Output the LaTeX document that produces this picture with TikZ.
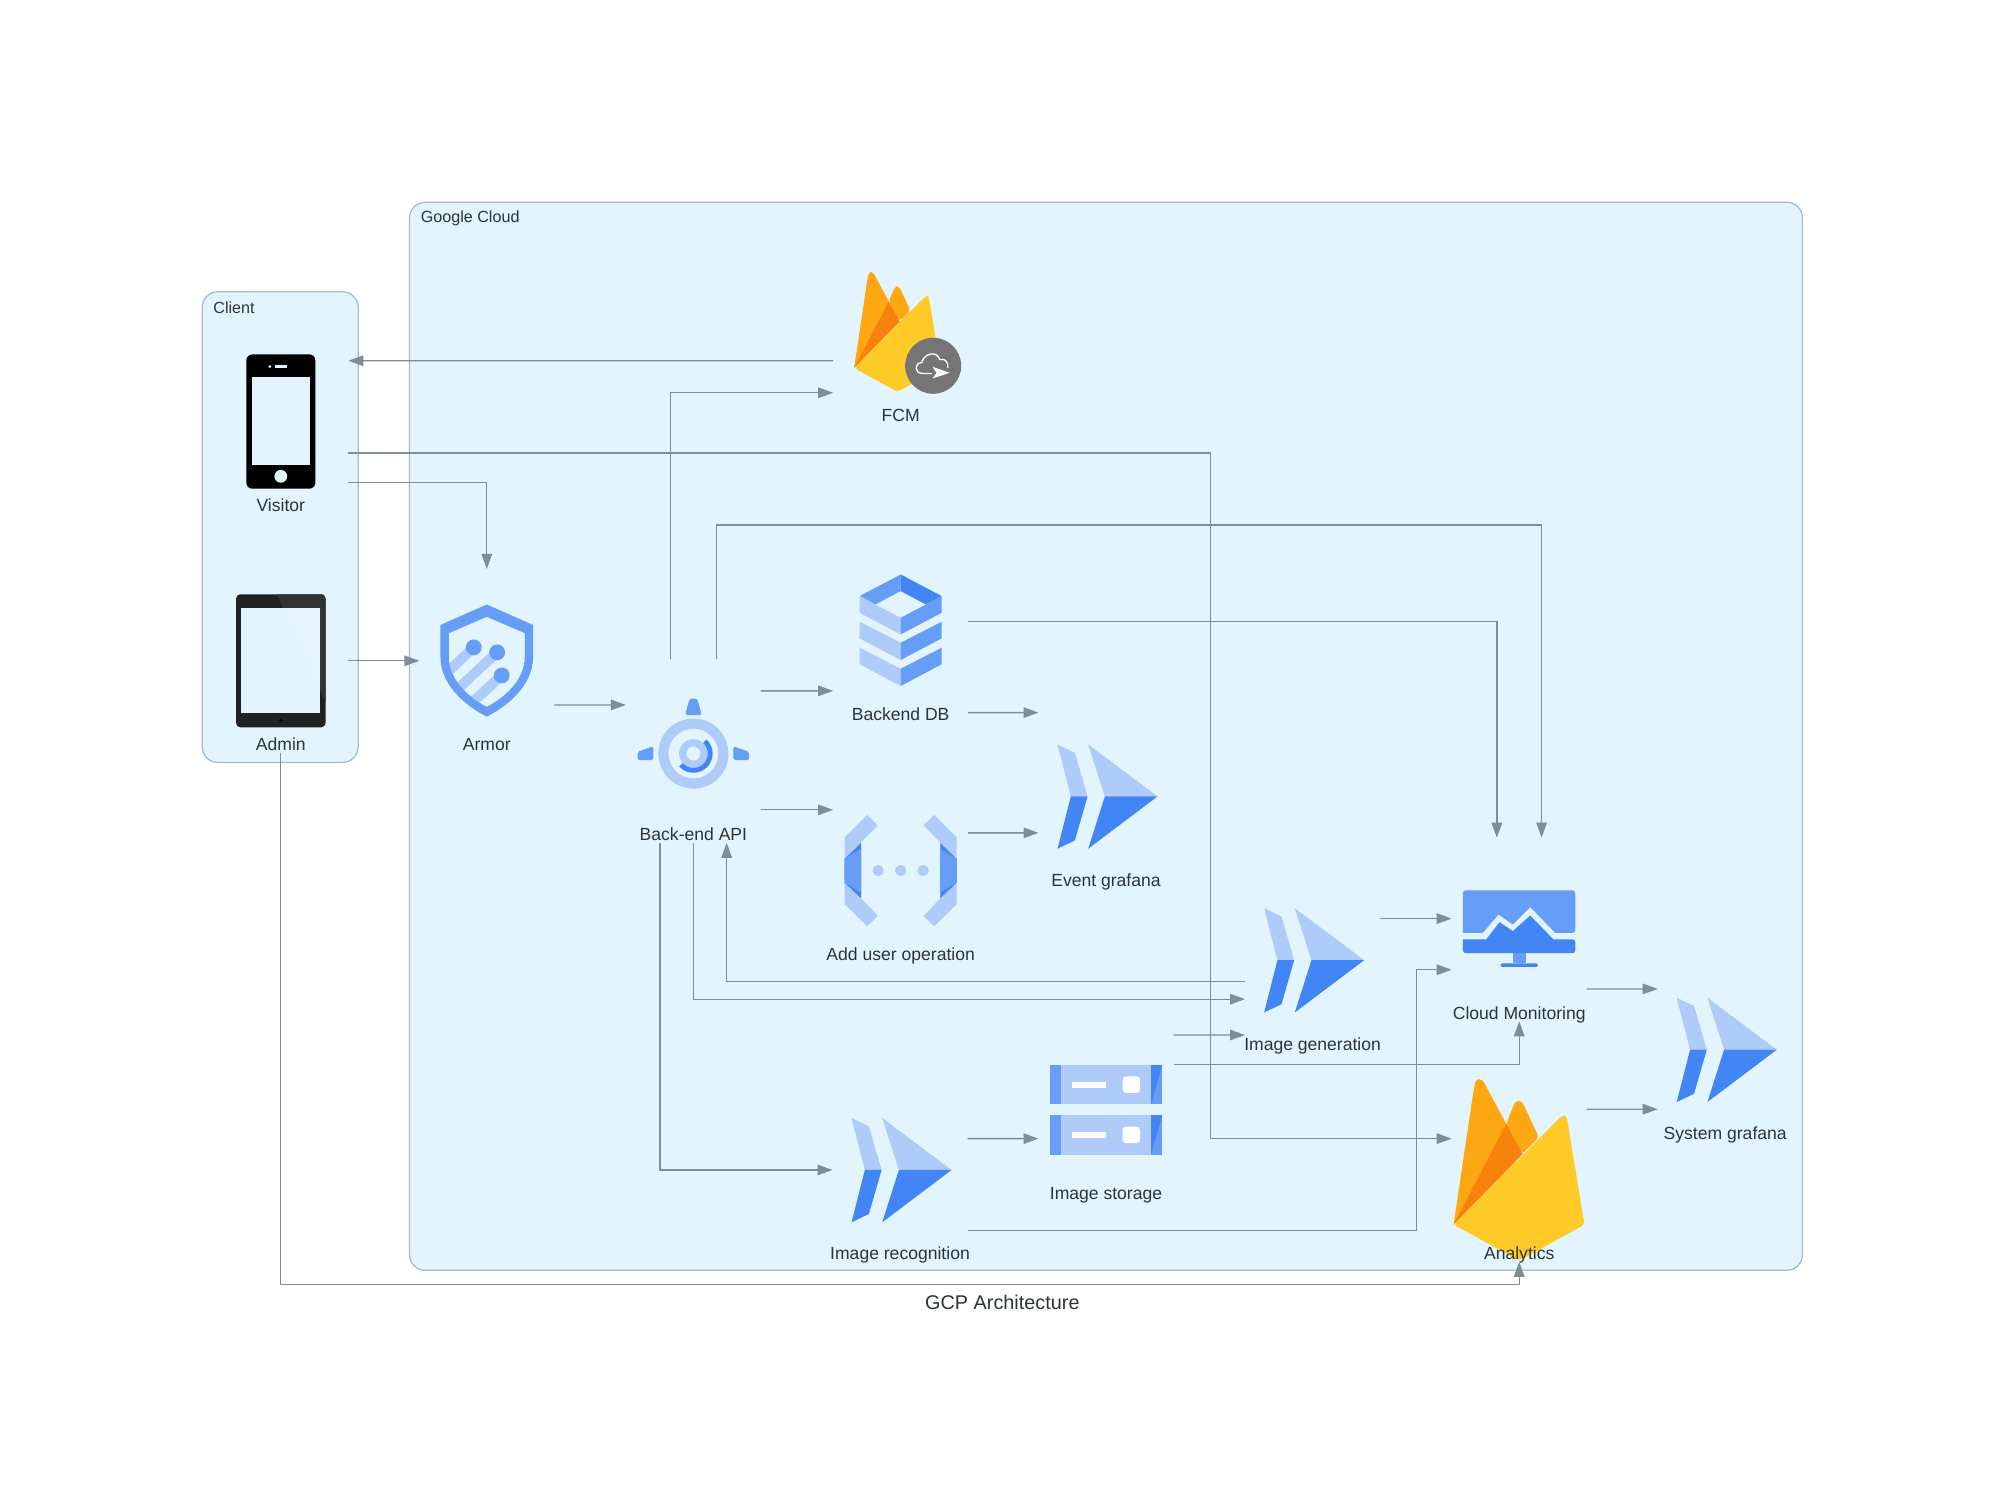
\documentclass[tikz,border=0pt]{standalone}
\usepackage{fontspec}
\setmainfont{Liberation Sans}
\usetikzlibrary{arrows.meta, calc}
\definecolor{cloudbg}{HTML}{E2F4FD}
\definecolor{clusterline}{HTML}{A9B9C6}
\definecolor{connline}{HTML}{7F8D99}
\definecolor{labeltext}{HTML}{2D3436}
\definecolor{glight}{HTML}{AECBFA}
\definecolor{gmid}{HTML}{669DF6}
\definecolor{gdark}{HTML}{4285F4}
\definecolor{fireorange}{HTML}{FFA712}
\definecolor{firedark}{HTML}{F6820C}
\definecolor{fireyellow}{HTML}{FFCA28}
\definecolor{fcmgrey}{HTML}{757575}
\tikzset{
	cluster/.style={draw=clusterline, fill=cloudbg, line width=.7pt, rounded corners=9pt, inner sep=0pt},
	clusterlbl/.style={anchor=west, inner sep=0pt, text=labeltext, font=\fontsize{9.2}{11}\selectfont},
	iconbox/.style={minimum width=2.688cm, minimum height=3.661cm, inner sep=0pt},
	iconlbl/.style={inner sep=0pt, text height=7.2pt, text depth=2pt, text=labeltext, font=\fontsize{10}{12}\selectfont},
	conn/.style={draw=connline, line width=.75pt, -{Triangle[length=.3cm,width=.21cm]}},
	pics/phone/.style={code={
		\fill[black, rounded corners=3.5pt] (-27,-52.5) rectangle (27,52.5);
		\fill[cloudbg] (-22.5,-34.5) rectangle (22.5,34);
		\fill[cloudbg] (-4.7,-44) rectangle (5.2,-42);
		\fill[cloudbg] (-8.6,-43) circle (1.2);
		\fill[cloudbg] (0,42.8) circle (5);
	}},
	pics/tablet/.style={code={
		\fill[black!87, rounded corners=2.5pt] (-35,-52) rectangle (35,52);
		\fill[black!80] (-3.1,-52) -- (2,-41) -- (30.9,-41) -- (30.9,23.7) -- (35,32.6) -- (35,-49) -- (33,-52) -- cycle;
		\fill[cloudbg] (-30.9,-41) rectangle (30.9,40.7);
		\fill[white, opacity=.15] (2,-41) -- (30.9,-41) -- (30.9,23.7) -- cycle;
		\fill[black] (0,46.5) circle (1.5);
	}},
	pics/armoricon/.style={code={
		\begin{scope}
			\clip (29.7,-21.6) -- (29.7,-3) .. controls (29.7,16) and (12,30) .. (0,36) .. controls (-12,30) and (-29.7,16) .. (-29.7,-3) -- (-29.7,-21.6) -- (0,-34.4) -- cycle;
			\draw[glight, line width=.2cm] (-10.2,-10.5) -- (-34,12);
			\draw[glight, line width=.2cm] (8.1,-6.6) -- (-26,25);
			\draw[glight, line width=.2cm] (11.7,11.4) -- (-14,35);
		\end{scope}
		\fill[gmid, even odd rule] (0,-44) -- (36.2,-28) -- (36.2,-3) .. controls (36.2,20) and (15,36) .. (0,43.7) .. controls (-15,36) and (-36.2,20) .. (-36.2,-3) -- (-36.2,-28) -- cycle
			(0,-34.4) -- (29.7,-21.6) -- (29.7,-3) .. controls (29.7,16) and (12,30) .. (0,36) .. controls (-12,30) and (-29.7,16) .. (-29.7,-3) -- (-29.7,-21.6) -- cycle;
		\fill[gmid] (-10.2,-10.5) circle (6.2);
		\fill[gmid] (8.1,-6.6) circle (6.2);
		\fill[gmid] (11.7,11.4) circle (6.2);
	}},
	pics/apiicon/.style={code={
		\begin{scope}[shift={(0,2)}]
			\fill[glight, even odd rule] (0,0) circle (27.4) (0,0) circle (19.5);
			\fill[glight, even odd rule] (0,0) circle (11.2) (0,0) circle (5.6);
			\fill[gdark] plot[domain=-47:138,samples=30] ({15*cos(\x)},{15*sin(\x)}) -- plot[domain=138:-47,samples=30] ({11.2*cos(\x)},{11.2*sin(\x)}) -- cycle;
			\fill[gmid, rounded corners=1.5pt] (-6.5,-30) -- (-3,-43) -- (3,-43) -- (6.5,-30) -- cycle;
			\fill[gmid, rounded corners=1pt] (-31.3,-5.7) -- (-31.3,5.2) -- (-43.6,5.2) -- (-43.6,-1.3) -- cycle;
			\fill[gmid, rounded corners=1pt] (31.3,-5.7) -- (31.3,5.2) -- (43.6,5.2) -- (43.6,-1.3) -- cycle;
		\end{scope}
	}},
	pics/flame/.style={code={
		\fill[fireorange, rounded corners=2pt] (-3,-54) -- (2,-54) -- (15.4,-25.5) -- (2.6,-12.5) -- (-10.2,-36) -- cycle;
		\fill[fireorange] (-51.3,42.7) -- (-36,-60) [rounded corners=2pt] -- (-34,-71) -- (-29,-71) [sharp corners] -- (2.6,-12.5) -- cycle;
		\fill[firedark] (-51.3,42.7) -- (-10.2,-36) -- (2.6,-12.5) -- cycle;
		\fill[fireyellow, rounded corners=2pt] (-51.3,42.7) -- (33.5,-42.5) -- (37,-42.5) -- (51,42.7) -- (0,70.9) -- cycle;
	}},
	pics/fcmicon/.style={code={
		\pic[scale=.66] at (-2.5,0) {flame};
		\begin{scope}[shift={(25.4,26.4)}]
			\fill[fcmgrey] (0,0) circle (21.9);
			\draw[white, line width=.75pt, line join=round] (-1,6) -- (-8,6) .. controls (-15,6) and (-15,-2) .. (-9,-2.5) .. controls (-7,-10) and (3,-12) .. (5,-5) .. controls (10,-6) and (12,-2) .. (11.5,1.5);
			\fill[white] (-.5,.8) -- (13,5.5) -- (-.5,9.9) -- (2.6,5.5) -- cycle;
		\end{scope}
	}},
	pics/dbicon/.style={code={
		\fill[gmid] (-32,-26.6) -- (0,-43.5) -- (0,-30.5) -- (-19.8,-20) -- cycle;
		\fill[gdark] (0,-43.5) -- (32,-26.6) -- (19.8,-20) -- (0,-30.5) -- cycle;
		\fill[glight] (-32,-26.6) -- (-19.8,-20) -- (0,-9.6) -- (0,3.4) -- (-32,-13.5) -- cycle;
		\fill[gmid] (32,-26.6) -- (19.8,-20) -- (0,-9.6) -- (0,3.4) -- (32,-13.5) -- cycle;
		\foreach \yo in {0,20.3} {
			\fill[glight] (-32,-6.5+\yo) -- (0,9.9+\yo) -- (0,23.4+\yo) -- (-32,6.5+\yo) -- cycle;
			\fill[gmid] (32,-6.5+\yo) -- (0,9.9+\yo) -- (0,23.4+\yo) -- (32,6.5+\yo) -- cycle;
		}
	}},
	pics/bracketicon/.style={code={
		\foreach \sd in {1,-1} {
			\begin{scope}[xscale=\sd]
				\fill[glight] (-26.2,-43.5) -- (-17.9,-35.4) -- (-31,-22) -- (-31,21.6) -- (-17.9,35.4) -- (-26.2,43.5) -- (-43.8,26.3) -- (-43.8,-26) -- cycle;
				\fill[gdark] (-31,-21.4) -- (-31,21.6) -- (-43.8,9.4) -- (-43.8,-9.1) -- cycle;
				\fill[gmid] (-31,-17) -- (-31,17) -- (-43.8,9.4) -- (-43.8,-9.1) -- cycle;
			\end{scope}
		}
		\foreach \dx in {-17.6,0,17.6} {\fill[glight] (\dx,0) circle (4.4);}
	}},
	pics/grafanaicon/.style={code={
		\begin{scope}[shift={(1.2,0)}]
			\fill[glight] (-39.1,-40.6) -- (-25.5,-34.1) -- (-15.6,0) -- (-28.7,0) -- cycle;
			\fill[gdark] (-28.7,0) -- (-15.6,0) -- (-25.5,34.4) -- (-39.1,40.9) -- cycle;
			\fill[glight] (-15.1,-40.6) -- (39.1,0) -- (-2.1,0) -- cycle;
			\fill[gdark] (-2.1,0) -- (39.1,0) -- (-15.1,40.9) -- cycle;
		\end{scope}
	}},
	pics/monitoricon/.style={code={
		\fill[gmid, rounded corners=1.5pt] (-44,2.6) -- (-44,-30.5) -- (43.8,-30.5) -- (43.8,2.6) [sharp corners] -- (28.1,2.6) -- (8.6,-17.5) -- (-5,-3.9) -- (-16.2,-11.7) -- (-28.4,2.6) -- cycle;
		\fill[gdark, rounded corners=1.5pt] (-44,7.8) -- (-44,18.5) -- (43.8,18.5) -- (43.8,7.8) [sharp corners] -- (26.8,7.8) -- (8.6,-10.9) -- (-5,1.3) -- (-15.4,-5.7) -- (-25.8,7.8) -- cycle;
		\fill[gmid] (-5.2,18.5) rectangle (5.2,26.6);
		\fill[gdark, rounded corners=.8pt] (-14.6,26.6) rectangle (14.6,29.2);
	}},
	pics/storageicon/.style={code={
		\foreach \yo in {0,39.3} {
			\fill[glight] (-43.8,-35+\yo) rectangle (44,-4.3+\yo);
			\fill[gmid] (-43.8,-35+\yo) rectangle (-34.9,-4.3+\yo);
			\fill[gmid] (35.2,-35+\yo) rectangle (44,-4.3+\yo);
			\fill[gdark] (35.2,-35+\yo) -- (44,-35+\yo) -- (35.2,-4.3+\yo) -- cycle;
			\fill[white] (-26.3,-22+\yo) rectangle (0,-17.3+\yo);
			\fill[white, rounded corners=2pt] (13,-26.2+\yo) rectangle (26.6,-13.2+\yo);
		}
	}}
}
\begin{document}
\begin{tikzpicture}[x=.0256cm, y=-.0256cm]
	\useasboundingbox (0,0) rectangle (1568,1178.7);
	\node[cluster, minimum width=3.123cm, minimum height=9.42cm] (client) at (219,412) {};
	\node[cluster, minimum width=27.878cm, minimum height=21.376cm] (gcloud) at (864.5,575.5) {};
	\node[clusterlbl] (clientlbl) at ($(client.north west)+(9,13)$) {Client};
	\node[clusterlbl] (gcloudlbl) at ($(gcloud.north west)+(9,13)$) {Google Cloud};
	\foreach \nm/\cx/\cy/\txt/\icon in {
		visitor/219.5/329.5/Visitor/phone,
		admin/219.5/516.5/Admin/tablet,
		armor/380.5/516.5/Armor/armoricon,
		api/542/587/Back-end API/apiicon,
		fcm/704/259.5/FCM/fcmicon,
		db/704/492.5/Backend DB/dbicon,
		addop/704/680.5/Add user operation/bracketicon,
		event/864.5/622.5/Event grafana/grafanaicon,
		imggen/1026/750.5/Image generation/grafanaicon,
		cloud/1187.5/726.5/Cloud Monitoring/monitoricon,
		system/1348.5/820.5/System grafana/grafanaicon,
		storage/864.5/867.5/Image storage/storageicon,
		imgrec/703.5/914.5/Image recognition/grafanaicon,
		analytics/1187.5/914.5/Analytics/flame} {
		\pic at (\cx,\cy) {\icon};
		\node[iconbox] (\nm) at (\cx,\cy) {};
		\node[iconlbl] (\nm-lbl) at ($(\nm.south)+(0,-5)$) {\txt};
	}
	\draw[conn] ($(fcm.west)+(0,22.5)$) -- ($(visitor.east)+(0,-47.5)$);
	\draw[conn] ($(api.north)+(-18,0)$) |- ($(fcm.west)+(0,47.5)$);
	\draw[conn] ($(api.north)+(18,0)$) -- ++(0,-105) -| ($(cloud.north)+(17.5,0)$);
	\draw[conn] ($(visitor.east)+(0,24.5)$) -- ++(674,0) |- ($(analytics.west)+(0,-24.5)$);
	\draw[conn] ($(visitor.east)+(0,47.5)$) -| (armor.north);
	\draw[conn] (admin.east) -- (armor.west);
	\draw[conn] (admin.south) -- ++(0,416) -| (analytics.south);
	\draw[conn] ($(armor.east)+(0,34.5)$) -- ($(api.west)+(0,-36)$);
	\draw[conn] ($(api.east)+(0,-47)$) -- ($(db.west)+(0,47.5)$);
	\draw[conn] ($(api.east)+(0,46)$) -- ($(addop.west)+(0,-47.5)$);
	\draw[conn] ($(db.east)+(0,64.5)$) -- ($(event.west)+(0,-65.5)$);
	\draw[conn] ($(db.east)+(0,-6.5)$) -| ($(cloud.north)+(-17.5,0)$);
	\draw[conn] ($(addop.east)+(0,-29.5)$) -- ($(event.west)+(0,28.5)$);
	\draw[conn] ($(imggen.west)+(0,16.5)$) -| ($(api.south)+(26,0)$);
	\draw[conn] (api.south) |- ($(imggen.west)+(0,30.5)$);
	\draw[conn] ($(api.south)+(-26,0)$) |- (imgrec.west);
	\draw[conn] ($(imgrec.east)+(0,-24.5)$) -- ($(storage.west)+(0,22.5)$);
	\draw[conn] ($(imgrec.east)+(0,47.5)$) -- ++(351,0) |- ($(cloud.west)+(0,31.5)$);
	\draw[conn] ($(storage.east)+(0,-58.5)$) -- ($(imggen.west)+(0,58.5)$);
	\draw[conn] ($(storage.east)+(0,-35.5)$) -| (cloud.south);
	\draw[conn] ($(imggen.east)+(0,-32.5)$) -- ($(cloud.west)+(0,-8.5)$);
	\draw[conn] ($(cloud.east)+(0,46.5)$) -- ($(system.west)+(0,-47.5)$);
	\draw[conn] ($(analytics.east)+(0,-47.5)$) -- ($(system.west)+(0,46.5)$);
	\node[inner sep=0pt, text=labeltext, font=\fontsize{11.3}{13}\selectfont] (title) at (783.5,1018) {GCP Architecture};
\end{tikzpicture}
\end{document}
